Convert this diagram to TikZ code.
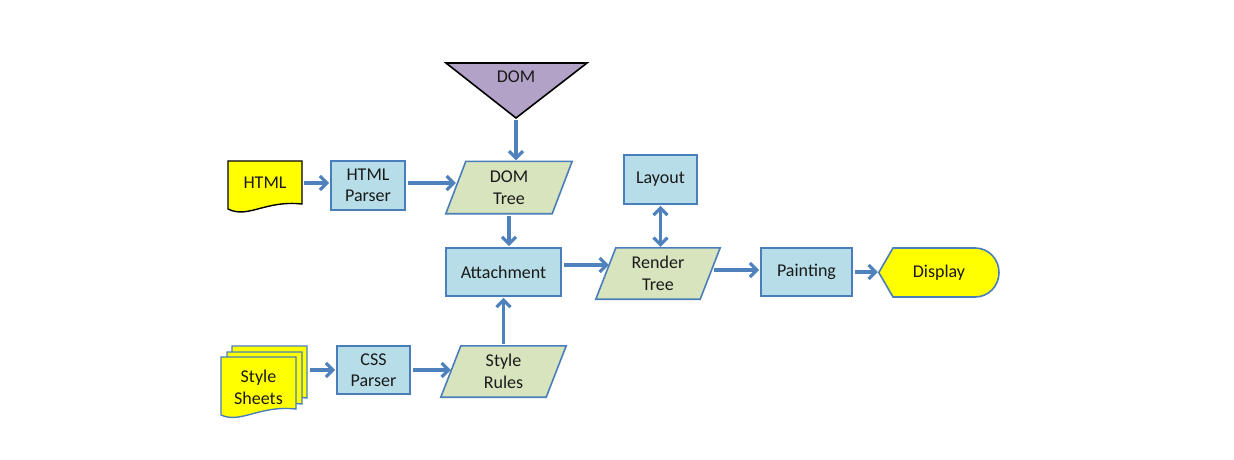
\documentclass[tikz,border=0pt]{standalone}
\usepackage{fontspec}
\setmainfont{Carlito}
\usetikzlibrary{arrows.meta,backgrounds,calc}
\definecolor{boxfill}{HTML}{B7DEE8}
\definecolor{boxdraw}{HTML}{4A7EBB}
\definecolor{parafill}{HTML}{D7E4BD}
\definecolor{docyellow}{HTML}{FFFF00}
\definecolor{domfill}{HTML}{B3A2C7}
\definecolor{arrowc}{HTML}{4F81BD}
\definecolor{txtc}{HTML}{1A1A1A}
\begin{document}
\begin{tikzpicture}[x=1pt,y=-1pt,
  font=\fontsize{18}{21.5}\selectfont, text=txtc,
  box/.style={draw=boxdraw, fill=boxfill, line width=1.6pt, inner sep=0pt, align=center},
  txt/.style={inner sep=0pt, align=center},
  para/.style={draw=boxdraw, fill=parafill, line width=1.6pt},
  doc/.style={draw=black, fill=docyellow, line width=1.4pt},
  arr/.style={draw=arrowc, line width=3.2pt, -{Straight Barb[length=7pt,width=14pt]}, shorten <=2pt, shorten >=1pt},
  darr/.style={draw=arrowc, line width=3.2pt, {Straight Barb[length=7pt,width=14pt]}-{Straight Barb[length=7pt,width=14pt]}, shorten <=1pt, shorten >=1pt}]
\useasboundingbox (0,0) rectangle (1234,460);

% rectangular process boxes
\node[box, minimum width=74pt, minimum height=49pt] (htmlp) at (368,185.5) {HTML\\Parser};
\node[box, minimum width=73pt, minimum height=48pt] (cssp) at (373.5,370) {CSS\\Parser};
\node[box, minimum width=115pt, minimum height=48pt] (attach) at (503.5,272) {Attachment};
\node[box, minimum width=73pt, minimum height=49pt] (layout) at (660.5,179.5) {Layout};
\node[box, minimum width=91pt, minimum height=48pt] (paint) at (806.5,272) {Painting};

% text nodes for special shapes
\node[txt, minimum width=126pt, minimum height=52pt] (domtree) at (509,187.5) {DOM\\Tree};
\node[txt, minimum width=125pt, minimum height=51pt] (rules) at (503.5,371.5) {Style\\Rules};
\node[txt, minimum width=124pt, minimum height=51pt] (render) at (658,273.5) {Render\\Tree};
\node[txt, minimum width=74pt, minimum height=44pt] (html) at (265,183) {HTML};
\node[txt, minimum width=75pt, minimum height=50pt] (sheets) at (258.5,387.5) {Style\\Sheets};
\node[txt, minimum width=120pt, minimum height=49pt] (display) at (939,272.5) {Display};
\node[txt] (dom) at (516,77) {DOM};
\coordinate (domtip) at (516,118);

\begin{pgfonlayer}{background}
  % DOM triangle
  \draw[draw=black, fill=domfill, line width=1.6pt, line join=miter] (446,63) -- (587,63) -- (domtip) -- cycle;
  % parallelograms
  \foreach \n in {domtree,rules,render}{
    \draw[para] (\n.south west) -- ($(\n.north west)+(20,0)$) -- (\n.north east) -- ($(\n.south east)+(-20,0)$) -- cycle;
  }
  % HTML document
  \draw[doc] (228,161) -- (302,161) -- (302,204) .. controls (265,200) and (248,219) .. (228,209) -- cycle;
  % Style sheets (multiple documents)
  \foreach \x/\y in {232/346, 227/352, 221/357}{
    \draw[draw=boxdraw, fill=docyellow, line width=1.4pt]
      (\x,\y) -- ({\x+75},\y) -- ({\x+75},{\y+52}) .. controls ({\x+38},{\y+48}) and ({\x+20},{\y+67}) .. (\x,{\y+58}) -- cycle;
  }
  % Display
  \draw[draw=boxdraw, fill=docyellow, line width=1.6pt]
    (display.west) -- (893,248) -- (975,248) .. controls (988.5,248) and (999,259) .. (999,272.5)
    .. controls (999,286) and (988.5,297) .. (975,297) -- (893,297) -- cycle;
\end{pgfonlayer}

% connectors
\draw[arr] (html.east) -- (html.east -| htmlp.west);
\draw[arr] (html.east -| htmlp.east) -- ([xshift=11pt]html.east -| domtree.west);
\draw[arr] (domtip) -- (domtip |- domtree.north);
\draw[arr] (domtree.south) -- (domtree.south |- attach.north);
\draw[arr] (rules.north) -- (rules.north |- attach.south);
\draw[arr] ([xshift=12pt]sheets.east |- cssp.west) -- (cssp.west);
\draw[arr] (cssp.east) -- ([xshift=11pt]cssp.east -| rules.west);
\coordinate (ae) at ([yshift=7pt]attach.east);
\draw[arr] (ae) -- ([xshift=14pt]ae -| render.west);
\draw[darr] (layout.south) -- (layout.south |- render.north);
\coordinate (re) at ([yshift=3.5pt]render.east);
\draw[arr] ([xshift=-8pt]re) -- (re -| paint.west);
\draw[arr] (paint.east) -- (paint.east -| display.west);
\end{tikzpicture}
\end{document}
